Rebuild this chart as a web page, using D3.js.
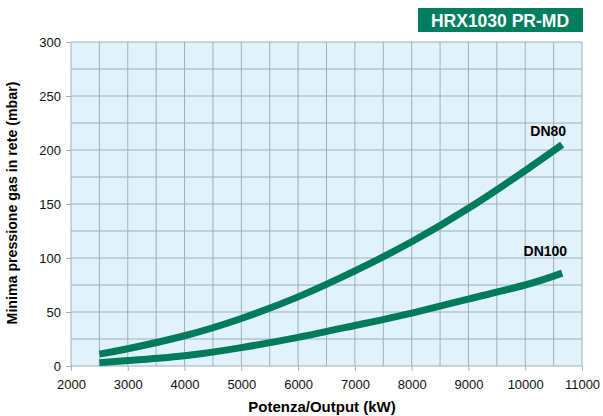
<!DOCTYPE html>
<html>
<head>
<meta charset="utf-8">
<script src="https://cdn.jsdelivr.net/npm/d3@7"></script>
<style>
  body { margin: 0; background: #fff; }
  svg { display: block; font-family: "Liberation Sans", Arial, sans-serif; }
</style>
</head>
<body>
<div id="chart"></div>
<script>
// Dati
const potenza = [2500, 3000, 4000, 5000, 6000, 7000, 8000, 9000, 10000, 10650];
const dn80 =    [11,   16,   28,   44,   64,   88,   115,  146,  181,   205];
const dn100 =   [3,    5,    9.5,  17,   26.5, 37.5, 49,   62,   75,    86];
const xTicks = [2000, 3000, 4000, 5000, 6000, 7000, 8000, 9000, 10000, 11000];
const yTicks = [0, 50, 100, 150, 200, 250, 300];

const margin = { top: 42, right: 21, bottom: 50, left: 71 },
      width = 603 - margin.left - margin.right,
      height = 416 - margin.top - margin.bottom;

const svg = d3.select("#chart")
  .append("svg")
    .attr("width", 603)
    .attr("height", 416);

const g = svg.append("g")
    .attr("transform", `translate(${margin.left},${margin.top})`);

const x = d3.scaleLinear().domain([2000, 11000]).range([0, width]);
const y = d3.scaleLinear().domain([0, 300]).range([height, 0]);

// Sfondo
g.append("rect")
  .attr("width", width)
  .attr("height", height)
  .attr("fill", "#e1f2fc");

// Griglia (ogni 500 kW, ogni 25 mbar)
const grid = "#9fb0ba";
g.append("g").selectAll("line")
  .data(d3.range(2000, 11001, 500))
  .enter().append("line")
    .attr("x1", d => x(d)).attr("x2", d => x(d))
    .attr("y1", 0).attr("y2", height)
    .attr("stroke", grid).attr("stroke-width", 1);
g.append("g").selectAll("line")
  .data(d3.range(0, 301, 25))
  .enter().append("line")
    .attr("y1", d => y(d)).attr("y2", d => y(d))
    .attr("x1", 0).attr("x2", width)
    .attr("stroke", grid).attr("stroke-width", 1);

// Assi
const xAxis = g.append("g")
  .attr("transform", `translate(0,${height})`)
  .call(d3.axisBottom(x).tickValues(xTicks).tickSize(5).tickPadding(9).tickFormat(d3.format("d")));
const yAxis = g.append("g")
  .call(d3.axisLeft(y).tickValues(yTicks).tickSize(5).tickPadding(5));
[xAxis, yAxis].forEach(a => {
  a.select(".domain").remove();
  a.selectAll("line").attr("stroke", grid);
  a.selectAll("text").attr("font-size", 13).attr("fill", "#111")
    .attr("font-family", "Liberation Sans, Arial, sans-serif");
});

// Curve
const line = d3.line()
  .x(d => x(d[0]))
  .y(d => y(d[1]))
  .curve(d3.curveNatural);

[dn80, dn100].forEach(serie => {
  g.append("path")
    .datum(potenza.map((p, i) => [p, serie[i]]))
    .attr("fill", "none")
    .attr("stroke", "#007b5c")
    .attr("stroke-width", 7)
    .attr("d", line);
});

// Etichette curve
g.append("text")
  .attr("x", x(10650) + 4).attr("y", y(205) - 9)
  .attr("text-anchor", "end")
  .attr("font-size", 14).attr("font-weight", "bold")
  .text("DN80");
g.append("text")
  .attr("x", x(10650) + 5).attr("y", y(86) - 17)
  .attr("text-anchor", "end")
  .attr("font-size", 14).attr("font-weight", "bold")
  .text("DN100");

// Titoli assi
svg.append("text")
  .attr("x", 322).attr("y", 412)
  .attr("text-anchor", "middle")
  .attr("font-size", 15).attr("font-weight", "bold")
  .text("Potenza/Output (kW)");
svg.append("text")
  .attr("transform", `translate(17,203) rotate(-90)`)
  .attr("text-anchor", "middle")
  .attr("font-size", 14.2).attr("font-weight", "bold")
  .text("Minima pressione gas in rete (mbar)");

// Riquadro modello
svg.append("rect")
  .attr("x", 418).attr("y", 8)
  .attr("width", 165).attr("height", 24)
  .attr("fill", "#007e5d");
svg.append("text")
  .attr("x", 500).attr("y", 26.5)
  .attr("text-anchor", "middle")
  .attr("font-size", 17.5).attr("font-weight", "bold")
  .attr("fill", "#fff")
  .text("HRX1030 PR-MD");
</script>
</body>
</html>
